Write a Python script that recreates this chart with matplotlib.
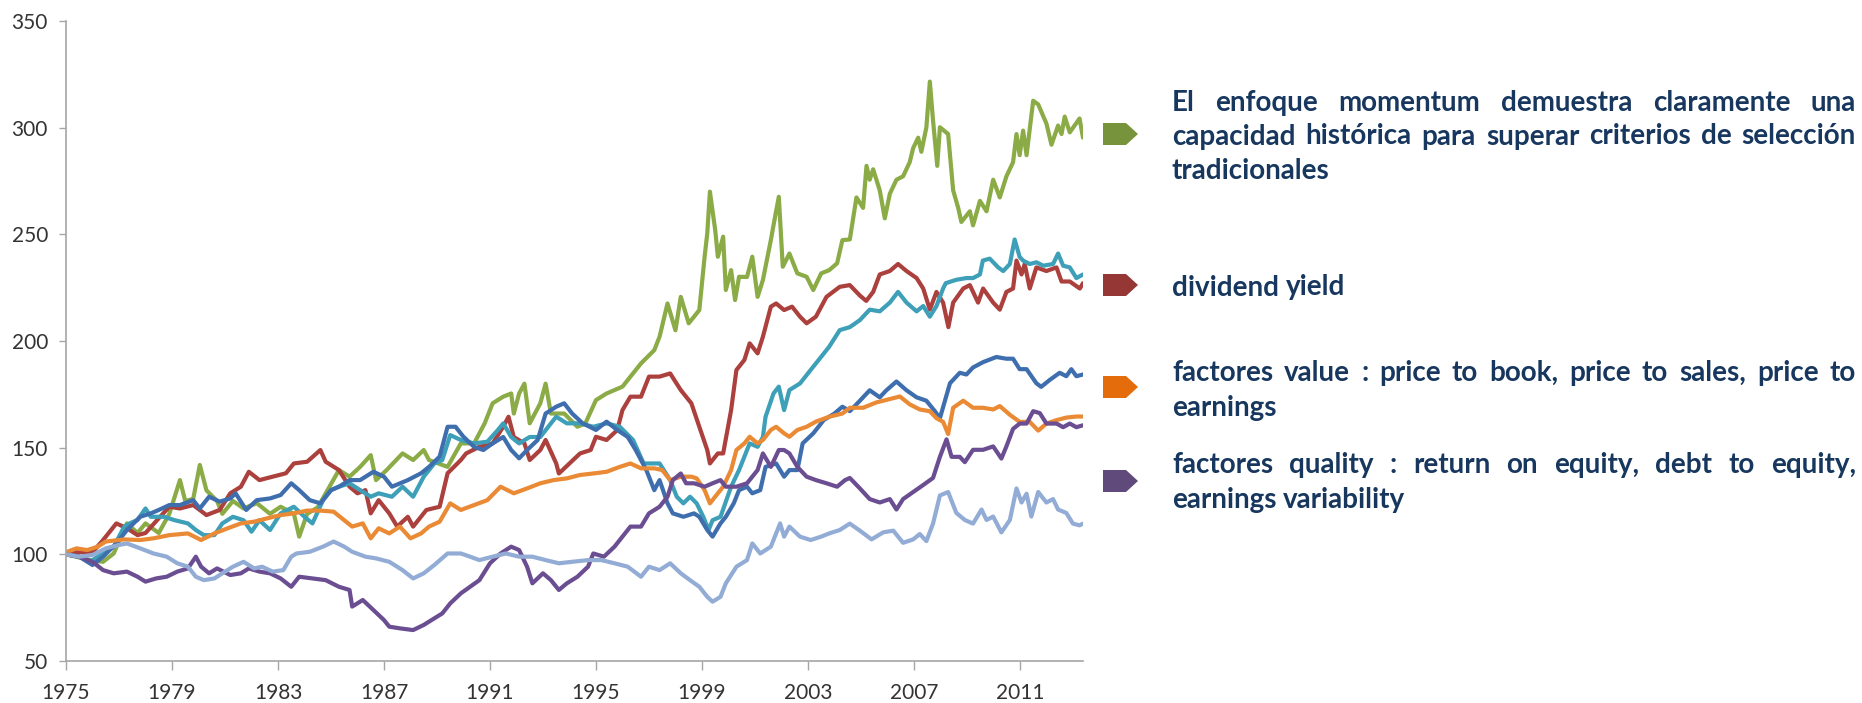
import matplotlib
matplotlib.use("Agg")
import matplotlib.pyplot as plt
from matplotlib.patches import Polygon

# ---------------- data ----------------
x_ticks = [1975, 1979, 1983, 1987, 1991, 1995, 1999, 2003, 2007, 2011]
y_ticks = [50, 100, 150, 200, 250, 300, 350]

momentum_x = [1975.0, 1975.5, 1976.0, 1976.4, 1976.8, 1977.3, 1977.7, 1978.0, 1978.5, 1978.9,
              1979.3, 1979.5, 1979.8, 1980.05, 1980.3, 1980.7, 1980.9, 1981.3, 1981.7, 1982.2,
              1982.7, 1983.1, 1983.6, 1983.8, 1984.1, 1984.5, 1984.8, 1985.3, 1985.7, 1986.1,
              1986.5, 1986.7, 1987.1, 1987.7, 1988.1, 1988.5, 1988.7, 1989.4, 1989.9,
              1990.4, 1990.8, 1991.1, 1991.5, 1991.8, 1991.9, 1992.1, 1992.3, 1992.5, 1992.9,
              1993.1, 1993.3, 1993.8, 1994.3, 1994.6, 1995.0, 1995.4, 1996.0, 1996.3, 1996.7,
              1997.2, 1997.4, 1997.7, 1998.0, 1998.2, 1998.5, 1998.9, 1999.1, 1999.2, 1999.3,
              1999.5, 1999.6, 1999.8, 1999.9, 2000.1, 2000.25, 2000.4, 2000.7, 2000.9, 2001.1,
              2001.3, 2001.6, 2001.76, 2001.9, 2002.05, 2002.3, 2002.6, 2002.95, 2003.2, 2003.5,
              2003.8, 2004.1, 2004.3,
              2004.58, 2004.83, 2005.08, 2005.21, 2005.33, 2005.46, 2005.71, 2005.9, 2006.09,
              2006.34, 2006.59, 2006.84, 2006.97, 2007.16, 2007.28, 2007.47, 2007.6, 2007.72,
              2007.88, 2007.98, 2008.29, 2008.48, 2008.67, 2008.79, 2009.11, 2009.23, 2009.49,
              2009.74, 2009.99, 2010.24, 2010.49, 2010.74, 2010.87, 2010.99, 2011.12, 2011.25,
              2011.5, 2011.69, 2012.0, 2012.19, 2012.44, 2012.57, 2012.69, 2012.88, 2013.06,
              2013.25, 2013.38]
momentum_y = [100, 98.5, 97, 96.5, 100.4, 114.5, 110, 114.5, 110, 119,
              134.8, 125, 126, 141.9, 130, 125, 119, 125, 121.5, 124,
              119, 122.3, 119, 108.3, 119, 122, 128.6, 139.5, 136.4, 141,
              146.5, 134.8, 139.5, 147.3, 144.2, 148.9, 144.2, 141, 152,
              152, 161.4, 170.8, 173.9, 175.4, 166, 175.4, 180, 161.4, 170.8,
              180, 166, 166, 159.8, 161.4, 172.3, 175.4, 178.6, 183.3, 189.5,
              195.7, 202, 217.6, 205, 220.7, 208.3, 214.5, 239.5, 250.4, 270,
              252, 239.5, 248.9, 223.9, 233.2, 219.2, 230.1, 230, 239.5, 220.7,
              228.6, 247.3, 258.3, 267.6, 234.8, 241, 231.7, 230.1, 223.9, 231.7,
              233.2, 236.4, 247.3,
              247.6, 267.3, 262.4, 282.1, 275.6, 280.5, 270.6, 257.5, 269,
              275.6, 277.2, 283.8, 290.4, 295.3, 288.7, 300.2, 321.6, 303.5,
              282.1, 300.2, 297, 270.6, 262.4, 255.8, 260.8, 254.2, 265.7,
              260.8, 275.6, 267.3, 277.2, 283.8, 297, 287.1, 298.6, 287.1,
              312.6, 310.9, 301.9, 292, 301, 297, 305.2, 297.8, 301,
              304.3, 295.3]

dividend_x = [1975.0, 1976.0, 1976.4, 1976.9, 1977.3, 1977.7, 1978.0, 1978.5, 1978.9, 1979.3,
              1979.8, 1980.3, 1980.8, 1981.2, 1981.6, 1981.9, 1982.3, 1982.8, 1983.3, 1983.6,
              1984.1, 1984.6, 1984.8, 1985.3, 1985.7, 1986.0, 1986.3, 1986.5, 1986.8, 1987.2,
              1987.5, 1987.9, 1988.1, 1988.6, 1989.1, 1989.4, 1989.9,
              1990.1, 1990.6, 1991.1, 1991.5, 1991.7, 1991.9, 1992.3, 1992.5, 1992.9, 1993.1,
              1993.5, 1993.6, 1994.0, 1994.4, 1994.8, 1995.0, 1995.4, 1995.8, 1996.0, 1996.3,
              1996.7, 1997.0, 1997.4, 1997.8, 1998.2, 1998.6, 1998.9, 1999.2, 1999.3, 1999.6,
              1999.8, 2000.1, 2000.3, 2000.6, 2000.8, 2001.1, 2001.3, 2001.6, 2001.8, 2002.1,
              2002.4, 2002.7, 2002.95, 2003.3, 2003.7, 2004.2,
              2004.58, 2004.96, 2005.2, 2005.46, 2005.71, 2006.09, 2006.4, 2006.72, 2007.1,
              2007.35, 2007.6, 2007.85, 2008.1, 2008.3, 2008.48, 2008.86, 2009.11, 2009.42,
              2009.61, 2009.99, 2010.24, 2010.49, 2010.74, 2010.87, 2011.06, 2011.18, 2011.37,
              2011.62, 2012.0, 2012.38, 2012.57, 2012.88, 2013.26, 2013.38]
dividend_y = [101, 101, 106.7, 114.5, 112.2, 109, 110, 116.9, 122.3, 121.5,
              123.1, 118.4, 120.8, 128.6, 131.7, 138.7, 134.8, 136.4, 138, 142.6,
              143.4, 148.9, 143.4, 139.5, 131.7, 128.6, 130.1, 119.2, 125.4, 119.2,
              113, 117.6, 113, 120.8, 122.3, 138, 144.2,
              147.3, 150.4, 152, 159.8, 164.5, 155, 152, 144.2, 148.9, 153.6,
              142.6, 137.9, 142.6, 147.3, 148.9, 155.1, 153.6, 158.2, 167.6, 173.9,
              173.9, 183.3, 183.3, 184.8, 177, 170.8, 159.8, 148.9, 142.6, 147.3,
              147.3, 167.6, 186.4, 191.1, 198.9, 194.2, 202, 216.1, 217.6, 214.5,
              216.1, 211.4, 208.3, 211.4, 220.7, 225.4,
              226.2, 221.3, 218.8, 223, 231.2, 232.8, 236.1, 232.8, 229.5,
              224.6, 214.7, 223, 218, 206.5, 218, 224.6, 226.2, 218,
              224.6, 218, 214.7, 223, 224.6, 237.7, 231.2, 236.1, 224.6,
              234.5, 232.8, 234.5, 227.9, 227.9, 224.6, 227.1]

teal_x = [1975.0, 1975.5, 1975.9, 1976.4, 1976.8, 1977.2, 1977.4, 1977.7, 1978.0, 1978.2,
          1978.7, 1979.1, 1979.6, 1979.9, 1980.2, 1980.6, 1980.9, 1981.3, 1981.7, 1982.0,
          1982.3, 1982.7, 1983.1, 1983.6, 1984.0, 1984.3, 1984.7, 1985.0, 1985.3, 1985.7,
          1986.1, 1986.5, 1986.8, 1987.3, 1987.7, 1988.1, 1988.5, 1988.9, 1989.2, 1989.5,
          1989.9,
          1990.4, 1990.9, 1991.3, 1991.5, 1991.8, 1992.1, 1992.5, 1992.9, 1993.3, 1993.5,
          1993.9, 1994.4, 1994.9, 1995.4, 1995.9, 1996.4, 1996.8, 1997.2, 1997.4, 1997.8,
          1998.05, 1998.3, 1998.55, 1998.8, 1999.05, 1999.25, 1999.4, 1999.7, 2000.1, 2000.4,
          2000.8, 2001.1, 2001.3, 2001.4, 2001.7, 2001.9, 2002.1, 2002.3, 2002.7, 2003.1,
          2003.5, 2003.8, 2004.2,
          2004.58, 2004.96, 2005.33, 2005.71, 2006.09, 2006.4, 2006.72, 2007.1, 2007.35,
          2007.6, 2007.85, 2008.1, 2008.2, 2008.6, 2008.98, 2009.23, 2009.49, 2009.6,
          2009.86, 2010.18, 2010.37, 2010.62, 2010.8, 2010.99, 2011.12, 2011.37, 2011.62,
          2011.88, 2012.25, 2012.44, 2012.63, 2012.88, 2013.13, 2013.38]
teal_y = [100, 98.9, 96.5, 100.4, 103.6, 113, 114.5, 116.1, 121.5, 117.6,
          117.6, 116, 114.5, 111.4, 109, 109, 114.5, 117.6, 116, 110.6,
          116, 111.4, 119.2, 122.3, 117.6, 114.5, 125.4, 130.1, 131.7, 133.3,
          130.1, 127, 128.6, 127, 131.7, 127, 136.4, 142.6, 144.2, 155.9,
          153.6,
          152, 152.8, 158.3, 161.4, 155, 152, 155, 155, 161.4, 164.5,
          161.4, 161.4, 159.8, 161.4, 159.8, 153.6, 142.6, 142.6, 142.6, 134.8,
          127, 123.9, 127, 123.9, 117.6, 111.4, 116, 117.6, 131.7, 139.5,
          152, 150.4, 155, 164.5, 175.4, 178.6, 167.6, 177, 180.1, 186.4,
          192.6, 197.3, 205.1,
          206.5, 209.8, 214.7, 213.9, 218, 223, 218, 213.9, 216.4,
          211.4, 216.4, 224.6, 227.1, 228.7, 229.5, 229.5, 231.2, 237.7,
          238.6, 234.5, 232.8, 236.1, 247.6, 239.4, 237.7, 236.1, 236.9,
          235.3, 236.1, 241, 235.3, 234.5, 229.5, 231.2]

blue_x = [1975.0, 1975.5, 1976.0, 1976.4, 1976.9, 1977.3, 1977.8, 1978.2, 1978.5, 1978.9,
          1979.3, 1979.8, 1980.05, 1980.4, 1980.8, 1981.2, 1981.4, 1981.8, 1982.2, 1982.7,
          1983.1, 1983.5, 1983.8, 1984.2, 1984.6, 1985.0, 1985.3, 1985.7, 1986.1, 1986.6,
          1987.0, 1987.3, 1987.9, 1988.4, 1988.7, 1989.1, 1989.4, 1989.7,
          1990.0, 1990.4, 1990.75, 1991.1, 1991.5, 1991.8, 1992.1, 1992.4, 1992.8, 1993.1,
          1993.5, 1993.8, 1994.1, 1994.5, 1995.0, 1995.4, 1995.8, 1996.2, 1996.5, 1996.9,
          1997.2, 1997.4, 1997.7, 1997.9, 1998.3, 1998.7, 1998.9, 1999.2, 1999.4, 1999.7,
          1999.9, 2000.2, 2000.4, 2000.7, 2000.9, 2001.2, 2001.4, 2001.8, 2002.1, 2002.3,
          2002.6, 2002.8, 2003.2, 2003.6, 2004.0, 2004.3,
          2004.58, 2004.96, 2005.33, 2005.71, 2005.96, 2006.34, 2006.72, 2007.1, 2007.47,
          2007.79, 2007.98, 2008.17, 2008.36, 2008.73, 2008.98, 2009.23, 2009.61, 2010.11,
          2010.49, 2010.74, 2010.99, 2011.25, 2011.62, 2011.8, 2012.13, 2012.5, 2012.75,
          2012.94, 2013.13, 2013.38]
blue_y = [100, 98.9, 95, 98.9, 105.1, 111.4, 117.6, 119.2, 120.8, 123.1,
          123.1, 125.4, 121.5, 127, 124.7, 126.2, 128.6, 120.8, 125.4, 126.2,
          127.8, 133.3, 130.1, 125.4, 123.9, 130.1, 131.7, 134.8, 134.8, 138.7,
          136.4, 131.7, 134.8, 138, 141, 145.8, 159.8, 159.8,
          155.1, 150.4, 148.9, 152, 155, 148.9, 145, 148.9, 153.6, 166,
          169.2, 170.8, 166, 161.4, 158.3, 162.2, 158.3, 155, 148.9, 139.5,
          130.1, 134.8, 123.9, 119.2, 117.6, 119.2, 117.6, 111.4, 108.3, 114.5,
          117.6, 123.9, 130.1, 131.7, 128.6, 130.1, 141, 142.6, 136.4, 139.5,
          139.5, 152, 156.7, 163, 166, 169.2,
          167.1, 172, 176.9, 173.6, 176.9, 181, 176.9, 173.6, 172,
          167.1, 163.8, 172, 180.2, 185.1, 184.3, 187.6, 190.1, 192.5,
          191.7, 191.7, 186.8, 186.8, 180.2, 178.5, 181.8, 185.1, 183.5,
          186.8, 183.5, 184.3]

value_x = [1975.0, 1975.4, 1975.8, 1976.2, 1976.5, 1977.2, 1977.8, 1978.3, 1978.9, 1979.6,
           1980.1, 1980.6, 1981.1, 1981.6, 1982.1, 1982.6, 1983.1, 1983.6, 1984.1, 1984.6,
           1985.1, 1985.5, 1985.8, 1986.2, 1986.5, 1986.8, 1987.2, 1987.6, 1988.0, 1988.4,
           1988.7, 1989.1, 1989.5, 1989.9,
           1990.4, 1990.9, 1991.4, 1991.9, 1992.4, 1992.9, 1993.4, 1993.9, 1994.4, 1994.9,
           1995.4, 1995.9, 1996.3, 1996.7, 1997.2, 1997.5, 1997.8, 1998.2, 1998.6, 1998.8,
           1999.1, 1999.3, 1999.6, 1999.8, 2000.1, 2000.3, 2000.6, 2000.8, 2001.1, 2001.3,
           2001.6, 2001.8, 2002.1, 2002.3, 2002.6, 2002.95, 2003.3, 2003.8, 2004.3,
           2004.58, 2005.08, 2005.58, 2006.09, 2006.47, 2006.84, 2007.22, 2007.6, 2007.85,
           2008.1, 2008.29, 2008.48, 2008.86, 2009.23, 2009.61, 2009.99, 2010.24, 2010.62,
           2010.99, 2011.37, 2011.69, 2012.0, 2012.38, 2012.75, 2013.13, 2013.38]
value_y = [101, 102.8, 102, 103.6, 106, 107, 106.7, 107.5, 109, 109.8,
           106.7, 109.8, 112.2, 114.5, 115.3, 116.9, 118.4, 119.2, 120.5, 120.5,
           120, 116, 113, 114.5, 107.5, 112.2, 109.8, 113, 107.5, 109.8,
           113, 115.3, 123.9, 120.8,
           123.1, 125.4, 131.7, 128.6, 130.9, 133.3, 134.8, 135.6, 137.2, 137.9,
           138.7, 141, 142.6, 140.3, 140.3, 139.5, 134.8, 136.4, 136.4, 135.6,
           130.1, 123.9, 128.6, 131.7, 139.5, 148.9, 152, 155.1, 152, 153.6,
           158.3, 159.8, 156.7, 155.1, 158.3, 159.8, 162.2, 164.5, 166,
           168.7, 168.7, 171.2, 172.8, 174, 170.3, 167.9, 167.1, 163.8,
           162.1, 156.4, 168.7, 172, 168.7, 168.7, 167.9, 169.5, 165.4,
           162.1, 162.1, 158, 161.3, 162.9, 164.1, 164.6, 164.6]

quality_x = [1975.0, 1975.5, 1976.0, 1976.4, 1976.8, 1977.3, 1977.7, 1978.0, 1978.4, 1978.8,
             1979.2, 1979.6, 1979.9, 1980.1, 1980.4, 1980.7, 1981.2, 1981.6, 1981.9, 1982.3,
             1982.7, 1983.1, 1983.5, 1983.8, 1984.3, 1984.8, 1985.3, 1985.7, 1985.8, 1986.2,
             1986.6, 1987.0, 1987.2, 1987.6, 1988.1, 1988.5, 1988.9, 1989.2, 1989.5, 1989.9,
             1990.25, 1990.6, 1991.0, 1991.4, 1991.8, 1992.1, 1992.4, 1992.6, 1993.0, 1993.3,
             1993.6, 1993.9, 1994.3, 1994.7, 1994.9, 1995.3, 1995.7, 1996.0, 1996.3, 1996.7,
             1997.0, 1997.4, 1997.7, 1997.9, 1998.2, 1998.4, 1998.7, 1999.1, 1999.4, 1999.7,
             1999.9, 2000.3, 2000.7, 2001.1, 2001.3, 2001.6, 2001.9, 2002.1, 2002.3, 2002.6,
             2002.95, 2003.3, 2003.7, 2004.1, 2004.4,
             2004.58, 2004.96, 2005.33, 2005.71, 2006.09, 2006.34, 2006.59, 2006.97, 2007.35,
             2007.72, 2007.98, 2008.23, 2008.42, 2008.73, 2008.92, 2009.23, 2009.61, 2009.99,
             2010.3, 2010.49, 2010.74, 2010.99, 2011.25, 2011.5, 2011.75, 2012.0, 2012.38,
             2012.63, 2012.88, 2013.13, 2013.38]
quality_y = [100, 98.9, 96.5, 92.6, 91.1, 91.9, 89.5, 87.2, 88.7, 89.5,
             91.9, 93.4, 98.9, 94.2, 91.1, 93.4, 90.3, 91.1, 93.4, 91.9,
             91.1, 88.7, 84.8, 89.5, 88.7, 87.9, 84.8, 83.3, 75.5, 78.6,
             73.9, 69.2, 66.1, 65.3, 64.5, 66.9, 70, 72.3, 77, 81.7,
             84.8, 87.9, 95.8, 100.4, 103.6, 102, 94.2, 86.4, 91.1, 87.9,
             83.3, 86.4, 89.5, 94.2, 100.4, 98.9, 103.6, 108.3, 113, 113,
             119.2, 122.3, 127, 134.8, 137.9, 133.3, 133.3, 131.7, 133.3, 134.8,
             131.7, 131.7, 133.3, 139.5, 147.3, 141, 148.9, 148.9, 147.3, 141,
             136.4, 134.8, 133.3, 131.7, 134.8,
             135.8, 130.9, 125.9, 124.3, 125.9, 121, 125.9, 129.2, 132.5,
             135.8, 145.7, 153.9, 145.7, 145.7, 143.2, 149, 149, 150.6,
             144.9, 150.6, 158.8, 161.3, 161.3, 167.1, 166.2, 161.3, 161.3,
             159.6, 161.3, 159.6, 160.5]

light_x = [1975.0, 1975.5, 1976.0, 1976.5, 1977.0, 1977.3, 1977.8, 1978.3, 1978.8, 1979.2,
           1979.6, 1979.9, 1980.2, 1980.6, 1980.9, 1981.3, 1981.7, 1982.1, 1982.4, 1982.8,
           1983.2, 1983.5, 1983.7, 1984.2, 1984.7, 1985.1, 1985.5, 1985.8, 1986.3, 1986.7,
           1987.2, 1987.7, 1988.1, 1988.5, 1988.9, 1989.4, 1989.9,
           1990.25, 1990.6, 1991.1, 1991.6, 1992.1, 1992.6, 1993.1, 1993.6, 1994.1, 1994.7,
           1995.2, 1995.7, 1996.2, 1996.7, 1997.0, 1997.4, 1997.8, 1998.2, 1998.55, 1998.9,
           1999.2, 1999.4, 1999.7, 1999.9, 2000.3, 2000.7, 2000.9, 2001.2, 2001.6, 2001.95,
           2002.1, 2002.3, 2002.7, 2003.1, 2003.5, 2003.8, 2004.2,
           2004.58, 2004.96, 2005.4, 2005.84, 2006.22, 2006.59, 2006.97, 2007.22, 2007.47,
           2007.72, 2007.98, 2008.29, 2008.6, 2008.92, 2009.23, 2009.55, 2009.74, 2009.99,
           2010.3, 2010.62, 2010.87, 2011.06, 2011.25, 2011.43, 2011.69, 2012.0, 2012.25,
           2012.44, 2012.75, 2013.0, 2013.25, 2013.38]
light_y = [100, 98.9, 99.7, 102.8, 104.4, 105.1, 102.8, 100.4, 98.9, 95.8,
           94.2, 89.5, 87.9, 88.7, 91.1, 94.2, 96.5, 93.4, 94.2, 91.9,
           92.6, 98.9, 100.4, 101.2, 103.6, 106, 103.6, 101.2, 98.9, 98.1,
           96.5, 92.6, 88.7, 91.1, 95, 100.4, 100.4,
           98.9, 97.3, 98.9, 100.4, 98.9, 98.9, 97.3, 95.8, 96.5, 97.3,
           97.3, 95.8, 94.2, 89.5, 94.2, 92.6, 95.8, 91.1, 87.9, 84.8,
           80.1, 77.8, 80.1, 86.4, 94.2, 97.3, 105.1, 100.4, 103.6, 114.5,
           108.3, 113, 108.3, 106.7, 108.3, 109.8, 111.4,
           114.4, 111.1, 107, 110.3, 111.1, 105.4, 107, 109.5, 106.2,
           114.4, 127.6, 129.2, 119.4, 116.1, 114.4, 121, 116.1, 117.7,
           110.3, 116.1, 130.9, 124.3, 128.4, 117.7, 129.2, 124.3, 125.9,
           121, 119.4, 114.4, 113.6, 114.4]

series = [
    (momentum_x, momentum_y, "#8aab45"),
    (dividend_x, dividend_y, "#ab403d"),
    (teal_x, teal_y, "#3d9fb8"),
    (blue_x, blue_y, "#3e6ead"),
    (value_x, value_y, "#ea8a35"),
    (quality_x, quality_y, "#6b4e92"),
    (light_x, light_y, "#92acd6"),
]

paragraphs = [
    ["El enfoque momentum demuestra claramente una",
     "capacidad histórica para superar criterios de selección",
     "tradicionales"],
    ["dividend yield"],
    ["factores value : price to book, price to sales, price to",
     "earnings"],
    ["factores quality : return on equity, debt to equity,",
     "earnings variability"],
]
marker_colors = ["#77933c", "#953735", "#e46c0a", "#604a7b"]

# ---------------- layout ----------------
W, H = 1862, 703
fig = plt.figure(figsize=(W / 100, H / 100), dpi=100)
fig.patch.set_facecolor("white")

ax_l, ax_r, ax_t, ax_b = 66, 1083, 21, 661
ax = fig.add_axes([ax_l / W, 1 - ax_b / H, (ax_r - ax_l) / W, (ax_b - ax_t) / H])

for xs, ys, c in series:
    ax.plot(xs, ys, color=c, lw=3.0, solid_joinstyle="round", solid_capstyle="round")

ax.set_xlim(1975, 2013.38)
ax.set_ylim(50, 350)
ax.set_xticks(x_ticks)
ax.set_xticklabels([str(v) for v in x_ticks])
ax.set_yticks(y_ticks)
ax.set_yticklabels([str(v) for v in y_ticks])
for s in ["top", "right"]:
    ax.spines[s].set_visible(False)
for s in ["left", "bottom"]:
    ax.spines[s].set_color("#a6a6a6")
    ax.spines[s].set_linewidth(1.2)
ax.tick_params(axis="x", direction="out", length=6.5, width=1, color="#a6a6a6",
               pad=9, labelsize=15, labelcolor="#333333")
ax.tick_params(axis="y", direction="out", length=5, width=1, color="#a6a6a6",
               pad=8, labelsize=15, labelcolor="#333333")
for lab in ax.get_xticklabels() + ax.get_yticklabels():
    lab.set_family("Lato")

# ---------------- arrow markers ----------------
marker_centers = [134, 285, 387, 481]
for cy, col in zip(marker_centers, marker_colors):
    x0, xb, xt, hh = 1103, 1126, 1138, 11
    pts = [(x0, cy - hh), (xb, cy - hh), (xt, cy), (xb, cy + hh), (x0, cy + hh)]
    pts = [(px / W, 1 - py / H) for px, py in pts]
    fig.patches.append(Polygon(pts, closed=True, transform=fig.transFigure,
                               facecolor=col, edgecolor="none"))

# ---------------- justified text ----------------
NAVY = "#17375e"
FS = 20
X0, X1 = 1172, 1856
baselines = [[110.7, 144.5, 179.3], [295.5], [380.7, 415.5], [473, 508]]

fig.canvas.draw()
renderer = fig.canvas.get_renderer()

def tw(s):
    t = fig.text(0, 0, s, fontsize=FS, fontweight="bold", family="Lato")
    w = t.get_window_extent(renderer).width
    t.remove()
    return w

space_w = tw("a a") - tw("aa")

for para, ys in zip(paragraphs, baselines):
    for i, (line, yb) in enumerate(zip(para, ys)):
        words = line.split(" ")
        texts = [fig.text(0, 1 - yb / H, w, fontsize=FS, fontweight="bold",
                          family="Lato", color=NAVY, va="baseline", ha="left")
                 for w in words]
        widths = [t.get_window_extent(renderer).width for t in texts]
        last = (i == len(para) - 1)
        if last or len(words) == 1:
            gap = space_w
        else:
            gap = (X1 - X0 - sum(widths)) / (len(words) - 1)
        x = X0
        for t, w in zip(texts, widths):
            t.set_x(x / W)
            x += w + gap

fig.savefig("out.png", dpi=100, facecolor="white")
